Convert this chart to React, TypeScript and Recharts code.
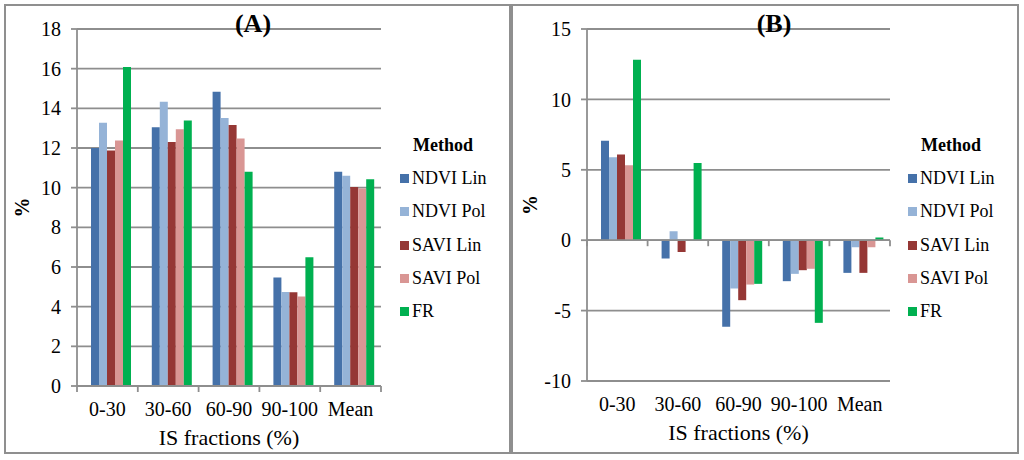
import React from "react";
import {
  BarChart,
  Bar,
  XAxis,
  YAxis,
  CartesianGrid,
  Legend,
  ReferenceLine,
} from "recharts";

const FONT = "'Liberation Serif', 'Times New Roman', serif";
const GRID = "#8e8e8e";

const CATEGORIES = ["0-30", "30-60", "60-90", "90-100", "Mean"];
const SERIES = ["NDVI Lin", "NDVI Pol", "SAVI Lin", "SAVI Pol", "FR"];
const COLORS = ["#4571a9", "#95b3d7", "#953735", "#d99694", "#00b050"];

// panel (A)
const A_NDVI_LIN = [12.0, 13.05, 14.84, 5.47, 10.8];
const A_NDVI_POL = [13.27, 14.33, 13.51, 4.74, 10.6];
const A_SAVI_LIN = [11.88, 12.3, 13.16, 4.73, 10.03];
const A_SAVI_POL = [12.38, 12.94, 12.48, 4.51, 9.96];
const A_FR = [16.08, 13.39, 10.8, 6.49, 10.43];
const A_TICKS = [0, 2, 4, 6, 8, 10, 12, 14, 16, 18];

// panel (B)
const B_NDVI_LIN = [7.07, -1.3, -6.15, -2.91, -2.32];
const B_NDVI_POL = [5.89, 0.64, -3.43, -2.39, -0.5];
const B_SAVI_LIN = [6.08, -0.83, -4.26, -2.13, -2.32];
const B_SAVI_POL = [5.32, -0.05, -3.15, -2.03, -0.5];
const B_FR = [12.82, 5.49, -3.1, -5.87, 0.19];
const B_TICKS = [-10, -5, 0, 5, 10, 15];

function buildRows(cols: number[][]) {
  return CATEGORIES.map((c, i) => {
    const row: Record<string, string | number> = { cat: c };
    SERIES.forEach((s, j) => {
      row[s] = cols[j][i];
    });
    return row;
  });
}

const dataA = buildRows([A_NDVI_LIN, A_NDVI_POL, A_SAVI_LIN, A_SAVI_POL, A_FR]);
const dataB = buildRows([B_NDVI_LIN, B_NDVI_POL, B_SAVI_LIN, B_SAVI_POL, B_FR]);

// zero line with tick marks on the category boundaries
function ZeroAxis(props: any) {
  const { x1, y1, x2 } = props;
  const step = (x2 - x1) / CATEGORIES.length;
  return (
    <g>
      <line x1={x1} y1={y1} x2={x2} y2={y1} stroke={GRID} strokeWidth={1.8} />
      {Array.from({ length: CATEGORIES.length + 1 }, (_, i) => (
        <line
          key={i}
          x1={x1 + i * step}
          x2={x1 + i * step}
          y1={y1}
          y2={y1 + 6}
          stroke={GRID}
          strokeWidth={1.8}
        />
      ))}
    </g>
  );
}

function MethodLegend() {
  return (
    <div style={{ width: 90, fontFamily: FONT, color: "#000" }}>
      <div style={{ textAlign: "center", fontWeight: "bold", fontSize: 18, lineHeight: "34px" }}>
        Method
      </div>
      {SERIES.map((s, i) => (
        <div key={s} style={{ display: "flex", alignItems: "center", height: 33.3, fontSize: 18 }}>
          <span
            style={{
              display: "inline-block",
              width: 9,
              height: 9,
              background: COLORS[i],
              marginLeft: 2,
              marginRight: 3,
            }}
          />
          {s}
        </div>
      ))}
    </div>
  );
}

interface PanelProps {
  data: Record<string, string | number>[];
  domain: [number, number];
  ticks: number[];
  axisWidth: number;
  right: number;
  bottom: number;
  legendLeft: number;
}

function Panel({ data, domain, ticks, axisWidth, right, bottom, legendLeft }: PanelProps) {
  const tickStyle = { fontSize: 20, fill: "#000", fontFamily: FONT };
  return (
    <BarChart
      width={512}
      height={460}
      data={data}
      margin={{ top: 29, right, left: 0, bottom }}
      barGap={0}
      barSize={8}
      style={{ fontFamily: FONT }}
    >
      <CartesianGrid vertical={false} stroke={GRID} strokeWidth={1.8} />
      <XAxis
        dataKey="cat"
        height={60}
        axisLine={false}
        tickLine={false}
        tickSize={0}
        tickMargin={16}
        interval={0}
        tick={tickStyle}
        label={{
          value: "IS fractions (%)",
          position: "insideBottom",
          offset: 1,
          style: { fontSize: 22, fill: "#000", fontFamily: FONT },
        }}
      />
      <YAxis
        width={axisWidth}
        domain={domain}
        ticks={ticks}
        interval={0}
        allowDataOverflow
        axisLine={{ stroke: GRID, strokeWidth: 1.8 }}
        tickLine={{ stroke: GRID, strokeWidth: 1.8 }}
        tickSize={6}
        tickMargin={10}
        tick={tickStyle}
        label={{
          value: "%",
          angle: -90,
          position: "insideLeft",
          offset: axisWidth === 77 ? 22 : 18,
          style: { fontSize: 20, fontWeight: "bold", fill: "#000", fontFamily: FONT, textAnchor: "middle" },
        }}
      />
      <Legend
        layout="vertical"
        align="center"
        verticalAlign="middle"
        wrapperStyle={{ left: legendLeft, top: 128, width: 100 }}
        content={<MethodLegend />}
      />
      <Bar dataKey="spacer" fill="none" legendType="none" isAnimationActive={false} />
      {SERIES.map((s, i) => (
        <Bar key={s} dataKey={s} name={s} fill={COLORS[i]} isAnimationActive={false} />
      ))}
      <ReferenceLine y={0} shape={ZeroAxis} />
    </BarChart>
  );
}

const titleStyle: React.CSSProperties = {
  position: "absolute",
  top: 11,
  width: 60,
  textAlign: "center",
  fontFamily: FONT,
  fontWeight: "bold",
  fontSize: 26,
  lineHeight: "26px",
  color: "#000",
};

export default function App() {
  return (
    <div style={{ position: "absolute", left: 0, top: 0, width: 1024, height: 460, background: "#fff" }}>
      <div
        style={{
          position: "absolute",
          left: 4,
          top: 4,
          width: 507,
          height: 450,
          border: "2px solid #8f8f8f",
          boxSizing: "border-box",
        }}
      />
      <div
        style={{
          position: "absolute",
          left: 511,
          top: 4,
          width: 508,
          height: 450,
          border: "2px solid #8f8f8f",
          boxSizing: "border-box",
        }}
      />
      <div style={{ position: "absolute", left: 0, top: 0 }}>
        <Panel
          data={dataA}
          domain={[0, 18]}
          ticks={A_TICKS}
          axisWidth={77}
          right={131}
          bottom={14}
          legendLeft={398}
        />
      </div>
      <div style={{ position: "absolute", left: 512, top: 0 }}>
        <Panel
          data={dataB}
          domain={[-10, 15]}
          ticks={B_TICKS}
          axisWidth={75}
          right={134}
          bottom={19}
          legendLeft={394}
        />
      </div>
      <div style={{ ...titleStyle, left: 223 }}>(A)</div>
      <div style={{ ...titleStyle, left: 744 }}>(B)</div>
    </div>
  );
}
